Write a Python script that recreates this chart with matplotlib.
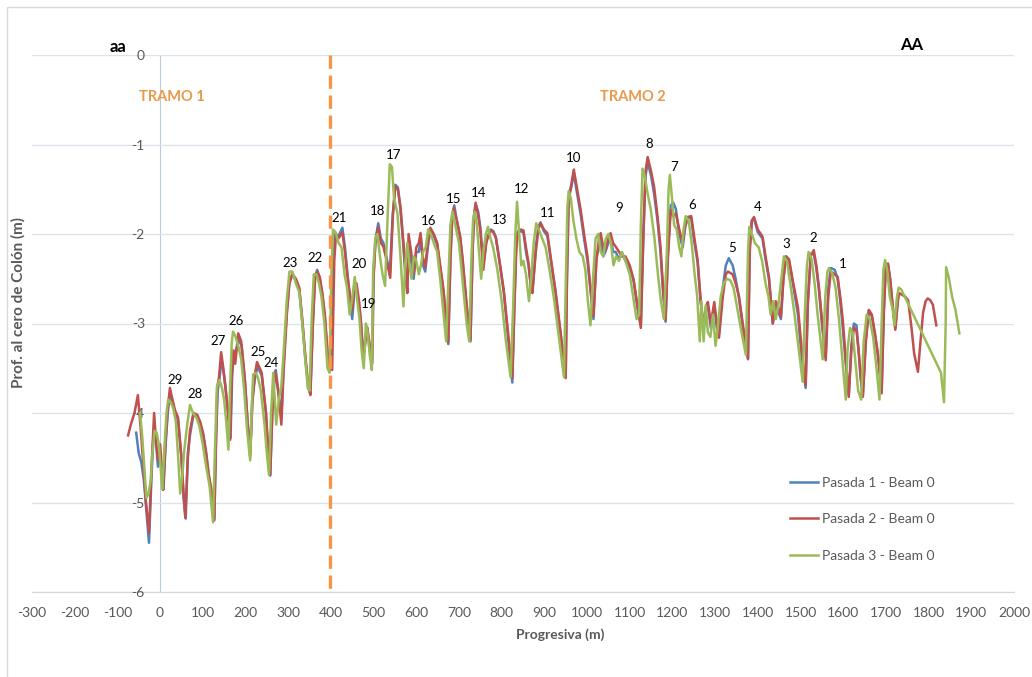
import matplotlib.pyplot as plt
from matplotlib.patches import Rectangle

plt.rcParams["font.family"] = ["Lato", "DejaVu Sans"]
plt.rcParams["axes.unicode_minus"] = False

# Perfil longitudinal - Pasada 1 (Beam 0)
x_p1 = [-56, -50, -44, -38, -32, -26, -20, -15, -10, -5, 0, 4, 8, 13, 18, 23, 29, 35, 42, 50,
        55, 60, 65, 70, 78, 87, 94, 101, 108, 113, 120, 127, 131, 135, 139, 144, 149, 153, 159, 165,
        169, 173, 178, 184, 191, 199, 205, 211, 216, 222, 228, 238, 248, 253, 258, 263, 268, 271, 278, 284,
        289, 297, 303, 310, 318, 326, 333, 340, 347, 352, 358, 363, 368, 374, 380, 386, 394, 401, 405, 410,
        418, 427, 433, 438, 444, 450, 455, 460, 466, 471, 476, 481, 485, 490, 496, 500, 505, 511, 517, 523,
        531, 538, 545, 551, 557, 563, 570, 576, 579, 583, 588, 594, 600, 606, 611, 616, 621, 627, 633, 641,
        649, 656, 664, 670, 675, 680, 684, 689, 695, 703, 709, 715, 721, 727, 732, 736, 740, 745, 750, 757,
        764, 770, 775, 781, 787, 795, 805, 815, 825, 830, 834, 838, 844, 851, 857, 863, 869, 872, 880, 886,
        891, 899, 907, 916, 926, 938, 950, 953, 957, 963, 969, 975, 985, 993, 1001, 1008, 1015, 1022, 1028, 1032,
        1038, 1043, 1050, 1055, 1061, 1067, 1075, 1082, 1090, 1100, 1109, 1118, 1126, 1132, 1137, 1142, 1150, 1157, 1165, 1172,
        1178, 1184, 1189, 1196, 1202, 1208, 1216, 1224, 1230, 1236, 1244, 1250, 1259, 1266, 1273, 1279, 1283, 1290, 1298, 1304,
        1309, 1318, 1325, 1332, 1341, 1348, 1356, 1366, 1377, 1381, 1386, 1391, 1400, 1411, 1418, 1426, 1435, 1442, 1447, 1454,
        1460, 1466, 1473, 1483, 1494, 1503, 1512, 1517, 1524, 1531, 1537, 1543, 1551, 1559, 1565, 1571, 1580, 1587, 1593, 1599,
        1606, 1613, 1619, 1625, 1631, 1636, 1641, 1646, 1653, 1660, 1667, 1674, 1681, 1690, 1695, 1700, 1705, 1710, 1716, 1722,
        1728]
y_p1 = [-4.22, -4.45, -4.55, -4.75, -5.1, -5.45, -4.7, -4.2, -4.3, -4.6, -4.45, -4.65, -4.85, -4.35, -4.0, -3.78, -3.88, -4.0, -4.08, -4.5,
        -4.95, -5.18, -4.45, -4.25, -4.02, -4.05, -4.12, -4.25, -4.45, -4.65, -4.9, -5.18, -4.3, -3.75, -3.62, -3.4, -3.55, -3.7, -3.98, -4.28,
        -3.55, -3.35, -3.3, -3.18, -3.25, -3.65, -4.1, -4.45, -3.85, -3.62, -3.48, -3.58, -4.0, -4.45, -4.7, -3.95, -3.6, -3.52, -3.8, -4.05,
        -3.5, -2.85, -2.52, -2.45, -2.52, -2.62, -2.98, -3.38, -3.72, -3.78, -2.95, -2.48, -2.4, -2.5, -2.68, -2.95, -3.45, -3.5, -2.4, -2.0,
        -2.02, -1.93, -2.15, -2.4, -2.7, -2.95, -2.65, -2.6, -2.8, -3.05, -3.38, -3.15, -3.05, -3.25, -3.45, -2.45, -2.05, -1.88, -2.05, -2.1,
        -2.28, -2.45, -1.78, -1.45, -1.48, -1.72, -2.15, -2.55, -2.62, -2.1, -2.3, -2.5, -2.2, -2.2, -2.05, -2.35, -2.42, -2.15, -1.95, -2.02,
        -2.12, -2.38, -2.65, -3.0, -3.23, -2.25, -1.8, -1.68, -1.85, -2.05, -2.32, -2.65, -2.95, -3.2, -2.15, -1.78, -1.68, -1.75, -1.92, -2.35,
        -2.08, -2.0, -1.95, -1.97, -2.05, -2.32, -2.65, -3.15, -3.66, -2.75, -2.15, -1.97, -1.97, -1.98, -2.2, -2.35, -2.62, -2.65, -2.15, -1.92,
        -1.87, -1.97, -2.02, -2.32, -2.65, -3.12, -3.58, -2.45, -1.6, -1.48, -1.32, -1.5, -1.78, -2.05, -2.3, -2.62, -2.95, -2.25, -2.15, -2.05,
        -2.25, -2.2, -2.1, -2.02, -2.2, -2.2, -2.28, -2.22, -2.3, -2.38, -2.52, -2.82, -3.02, -2.0, -1.35, -1.2, -1.35, -1.55, -1.85, -2.2,
        -2.65, -2.98, -2.25, -1.68, -1.65, -1.72, -2.0, -2.15, -1.92, -1.82, -1.82, -2.05, -2.32, -2.75, -3.05, -2.85, -2.8, -3.05, -2.8, -3.05,
        -3.12, -2.6, -2.35, -2.27, -2.35, -2.5, -2.72, -3.08, -3.4, -2.15, -1.85, -1.83, -1.98, -2.05, -2.28, -2.5, -3.0, -2.78, -2.85, -2.95,
        -2.5, -2.25, -2.3, -2.58, -2.9, -3.4, -3.72, -2.75, -2.22, -2.22, -2.38, -2.62, -3.05, -3.38, -2.6, -2.38, -2.4, -2.5, -2.75, -3.05,
        -3.45, -3.8, -3.25, -3.0, -3.02, -3.3, -3.62, -3.8, -3.18, -2.85, -2.92, -3.12, -3.35, -3.75, -2.85, -2.33, -2.35, -2.52, -2.82, -3.05,
        -2.72]

# Pasada 2 (Beam 0)
x_p2 = [-75, -68, -60, -52, -45, -40, -33, -26, -20, -14, -9, -5, 0, 4, 7, 13, 18, 23, 29, 35,
        42, 50, 55, 59, 65, 70, 78, 87, 94, 101, 108, 113, 120, 127, 131, 134, 138, 143, 148, 152,
        158, 164, 168, 172, 176, 183, 190, 198, 205, 211, 216, 221, 227, 238, 248, 253, 258, 263, 267, 270,
        277, 284, 289, 297, 303, 310, 318, 326, 333, 340, 347, 352, 358, 363, 368, 374, 380, 386, 394, 403,
        408, 412, 418, 427, 433, 438, 444, 450, 455, 460, 466, 471, 476, 481, 485, 490, 497, 500, 504, 511,
        517, 523, 531, 539, 545, 551, 557, 563, 570, 576, 579, 582, 588, 594, 600, 606, 610, 615, 621, 627,
        633, 641, 649, 656, 664, 670, 675, 680, 684, 688, 695, 703, 709, 715, 721, 727, 732, 735, 739, 745,
        750, 757, 764, 770, 774, 780, 786, 795, 805, 815, 825, 830, 834, 837, 844, 851, 857, 863, 869, 872,
        880, 886, 891, 899, 907, 916, 926, 938, 950, 953, 957, 963, 969, 975, 985, 993, 1001, 1008, 1015, 1022,
        1028, 1032, 1038, 1043, 1050, 1055, 1061, 1067, 1075, 1082, 1090, 1100, 1109, 1118, 1126, 1132, 1137, 1142, 1150, 1157,
        1165, 1172, 1178, 1184, 1189, 1196, 1202, 1208, 1216, 1224, 1230, 1236, 1244, 1250, 1259, 1266, 1273, 1279, 1283, 1290,
        1298, 1304, 1309, 1318, 1325, 1330, 1341, 1348, 1356, 1366, 1377, 1381, 1386, 1391, 1400, 1411, 1418, 1426, 1435, 1442,
        1447, 1454, 1460, 1466, 1473, 1483, 1494, 1503, 1512, 1517, 1524, 1531, 1537, 1543, 1551, 1559, 1565, 1571, 1580, 1587,
        1593, 1599, 1606, 1613, 1619, 1625, 1631, 1636, 1641, 1646, 1653, 1660, 1667, 1674, 1681, 1690, 1695, 1700, 1705, 1710,
        1716, 1722, 1728, 1731, 1738, 1745, 1752, 1760, 1766, 1775, 1781, 1787, 1793, 1798, 1804, 1810, 1818]
y_p2 = [-4.25, -4.12, -4.0, -3.8, -4.2, -4.53, -5.0, -5.34, -4.6, -4.0, -4.35, -4.53, -4.35, -4.6, -4.86, -4.3, -3.95, -3.72, -3.85, -3.97,
        -4.05, -4.5, -4.9, -5.17, -4.5, -4.2, -4.0, -4.02, -4.1, -4.23, -4.45, -4.67, -4.85, -5.2, -4.3, -3.71, -3.6, -3.32, -3.5, -3.67,
        -3.95, -4.3, -3.6, -3.3, -3.45, -3.11, -3.2, -3.6, -4.1, -4.49, -3.9, -3.6, -3.43, -3.55, -4.0, -4.4, -4.69, -4.0, -3.65, -3.54,
        -3.77, -4.13, -3.55, -2.89, -2.55, -2.45, -2.5, -2.6, -2.95, -3.35, -3.7, -3.8, -3.0, -2.5, -2.42, -2.48, -2.66, -2.9, -3.44, -3.52,
        -2.3, -2.0, -2.05, -1.98, -2.2, -2.44, -2.65, -2.85, -2.6, -2.55, -2.75, -3.0, -3.41, -3.2, -3.04, -3.2, -3.44, -2.5, -2.1, -1.92,
        -2.1, -2.14, -2.3, -2.49, -1.8, -1.47, -1.5, -1.7, -2.1, -2.5, -2.66, -2.0, -2.2, -2.44, -2.15, -2.1, -1.99, -2.25, -2.37, -2.1,
        -1.93, -2.0, -2.1, -2.35, -2.63, -3.0, -3.21, -2.3, -1.85, -1.71, -1.85, -2.03, -2.3, -2.63, -2.95, -3.18, -2.2, -1.8, -1.65, -1.8,
        -1.96, -2.4, -2.1, -2.0, -1.96, -1.98, -2.03, -2.3, -2.63, -3.1, -3.61, -2.8, -2.2, -1.99, -1.95, -1.96, -2.15, -2.33, -2.6, -2.66,
        -2.2, -1.95, -1.88, -1.95, -1.99, -2.3, -2.63, -3.1, -3.61, -2.5, -1.58, -1.45, -1.28, -1.45, -1.73, -2.0, -2.25, -2.6, -2.92, -2.3,
        -2.05, -1.99, -2.15, -2.18, -2.05, -1.99, -2.1, -2.14, -2.2, -2.25, -2.25, -2.35, -2.51, -2.8, -3.05, -2.0, -1.3, -1.14, -1.3, -1.47,
        -1.8, -2.14, -2.6, -2.96, -2.3, -1.73, -1.8, -1.77, -1.95, -2.1, -1.9, -1.81, -1.8, -2.0, -2.29, -2.74, -3.04, -2.8, -2.76, -3.0,
        -2.76, -3.0, -3.16, -2.7, -2.45, -2.42, -2.45, -2.55, -2.7, -3.05, -3.39, -2.2, -1.85, -1.81, -1.95, -2.03, -2.25, -2.48, -3.0, -2.75,
        -2.8, -2.93, -2.5, -2.25, -2.28, -2.55, -2.82, -3.3, -3.69, -2.8, -2.25, -2.18, -2.35, -2.59, -3.0, -3.41, -2.7, -2.42, -2.45, -2.48,
        -2.7, -2.96, -3.4, -3.82, -3.3, -3.04, -3.08, -3.3, -3.6, -3.82, -3.2, -2.85, -2.9, -3.1, -3.33, -3.78, -2.9, -2.35, -2.33, -2.5,
        -2.81, -3.07, -2.75, -2.66, -2.68, -2.7, -2.74, -3.05, -3.33, -3.54, -3.2, -2.88, -2.75, -2.72, -2.74, -2.79, -3.02]

# Pasada 3 (Beam 0)
x_p3 = [-47, -42, -37, -32, -27, -22, -18, -13, -8, -3, 2, 5, 10, 15, 19, 25, 31, 37, 43, 47,
        52, 57, 63, 70, 77, 85, 92, 100, 108, 116, 124, 128, 133, 139, 145, 150, 155, 160, 164, 168,
        171, 177, 183, 190, 197, 204, 211, 215, 218, 224, 229, 236, 245, 250, 255, 260, 265, 272, 278, 284,
        289, 297, 303, 310, 318, 326, 333, 340, 346, 350, 355, 360, 366, 372, 378, 385, 392, 397, 401, 405,
        411, 418, 425, 432, 438, 444, 450, 456, 462, 467, 472, 477, 482, 486, 491, 496, 499, 504, 509, 515,
        521, 527, 533, 538, 543, 548, 556, 563, 570, 574, 579, 584, 589, 594, 600, 606, 611, 616, 622, 628,
        634, 641, 649, 656, 663, 670, 676, 680, 685, 692, 700, 706, 712, 718, 724, 729, 733, 737, 742, 747,
        752, 757, 763, 768, 774, 780, 790, 800, 810, 821, 827, 832, 836, 841, 846, 851, 857, 864, 869, 875,
        881, 887, 895, 903, 912, 922, 934, 946, 950, 954, 957, 962, 968, 975, 982, 990, 996, 1002, 1008, 1014,
        1020, 1026, 1032, 1038, 1044, 1050, 1056, 1062, 1068, 1075, 1082, 1090, 1100, 1108, 1116, 1122, 1126, 1130, 1135, 1142,
        1149, 1158, 1166, 1173, 1180, 1187, 1191, 1194, 1199, 1204, 1210, 1216, 1221, 1226, 1231, 1238, 1245, 1252, 1258, 1264,
        1268, 1273, 1278, 1283, 1289, 1295, 1301, 1306, 1313, 1320, 1328, 1336, 1343, 1350, 1360, 1372, 1377, 1380, 1386, 1393,
        1402, 1410, 1418, 1425, 1430, 1436, 1442, 1448, 1455, 1461, 1468, 1476, 1486, 1496, 1505, 1510, 1515, 1519, 1526, 1533,
        1540, 1546, 1552, 1558, 1563, 1567, 1575, 1582, 1590, 1598, 1606, 1610, 1616, 1622, 1628, 1635, 1642, 1648, 1655, 1662,
        1670, 1677, 1685, 1690, 1694, 1698, 1703, 1709, 1716, 1720, 1726, 1730, 1736, 1829, 1836, 1840, 1841, 1847, 1855, 1863,
        1872]
y_p3 = [-4.0, -4.25, -4.6, -4.95, -4.9, -4.75, -4.45, -4.2, -4.22, -4.35, -4.65, -4.85, -4.4, -4.0, -3.85, -3.88, -3.95, -4.1, -4.55, -4.9,
        -4.7, -4.4, -4.15, -3.91, -4.0, -4.05, -4.15, -4.35, -4.6, -4.82, -5.22, -4.5, -3.71, -3.63, -3.72, -3.85, -4.1, -4.41, -3.7, -3.2,
        -3.09, -3.15, -3.25, -3.4, -3.75, -4.2, -4.53, -3.9, -3.57, -3.55, -3.6, -3.75, -4.15, -4.45, -4.69, -4.0, -3.55, -4.13, -3.85, -3.7,
        -3.35, -2.72, -2.42, -2.42, -2.55, -2.65, -3.0, -3.4, -3.72, -3.75, -2.95, -2.45, -2.45, -2.55, -2.7, -3.0, -3.5, -3.55, -2.5, -1.95,
        -1.98, -2.1, -2.15, -2.45, -2.6, -2.9, -2.72, -2.48, -2.75, -2.95, -3.3, -3.5, -3.0, -3.1, -3.35, -3.52, -2.4, -2.05, -2.0, -2.25,
        -2.45, -2.58, -1.8, -1.22, -1.25, -1.6, -1.77, -2.25, -2.81, -2.35, -2.1, -2.35, -2.5, -2.25, -2.3, -2.45, -2.35, -2.2, -2.15, -1.95,
        -2.0, -2.1, -2.2, -2.5, -2.85, -3.2, -2.4, -1.9, -1.75, -1.92, -2.1, -2.4, -2.7, -3.0, -3.2, -2.3, -1.85, -1.75, -1.9, -2.2,
        -2.5, -2.2, -2.0, -1.92, -2.05, -2.15, -2.4, -2.75, -3.2, -3.6, -2.8, -2.0, -1.64, -2.0, -2.35, -2.3, -2.45, -2.75, -2.5, -2.1,
        -1.88, -1.95, -2.05, -2.15, -2.4, -2.7, -3.15, -3.6, -2.6, -1.7, -1.52, -1.6, -1.85, -2.05, -2.2, -2.25, -2.4, -2.75, -3.02, -2.5,
        -2.05, -2.0, -2.2, -2.25, -2.05, -2.0, -2.1, -2.35, -2.25, -2.3, -2.2, -2.3, -2.45, -2.7, -2.95, -2.9, -1.9, -1.27, -1.35, -1.55,
        -1.72, -2.05, -2.45, -2.75, -2.95, -2.2, -1.5, -1.34, -1.6, -1.9, -1.95, -2.15, -2.25, -1.95, -1.8, -1.85, -2.1, -2.45, -2.7, -3.2,
        -2.75, -3.2, -2.8, -3.1, -3.15, -2.9, -3.25, -3.05, -2.7, -2.55, -2.5, -2.52, -2.6, -2.78, -3.05, -3.35, -2.2, -1.92, -2.0, -2.1,
        -2.15, -2.3, -2.55, -2.7, -2.9, -2.75, -2.95, -2.8, -2.5, -2.25, -2.3, -2.55, -2.9, -3.3, -3.65, -2.9, -2.35, -2.2, -2.28, -2.55,
        -2.9, -3.15, -3.4, -2.7, -2.42, -2.38, -2.45, -2.6, -2.95, -3.4, -3.85, -3.3, -3.05, -3.1, -3.4, -3.75, -3.85, -3.2, -2.9, -2.95,
        -3.15, -3.45, -3.85, -3.0, -2.4, -2.29, -2.4, -2.7, -2.85, -3.02, -2.7, -2.6, -2.62, -3.55, -3.88, -3.0, -2.37, -2.48, -2.7, -2.85,
        -3.11]

# Numeracion de crestas
peak_labels = [str(n) for n in range(1, 30)]
peak_x = [1599, 1529, 1466, 1400, 1339, 1247, 1203, 1145, 1076, 968, 907, 847, 795, 746, 687, 629, 547, 509, 488, 467,
          420, 363, 305, 260, 230, 178, 136, 82, 35]
peak_y = [-2.33, -2.04, -2.11, -1.70, -2.16, -1.68, -1.25, -0.99, -1.71, -1.15, -1.77, -1.50, -1.84, -1.54, -1.61, -1.86, -1.12, -1.74, -2.78, -2.33,
          -1.82, -2.27, -2.32, -3.44, -3.32, -2.97, -3.20, -3.79, -3.63]

x_ticks = list(range(-300, 2001, 100))
y_ticks = [0, -1, -2, -3, -4, -5, -6]
limite_tramos = 397

fig = plt.figure(figsize=(10.32, 6.77), dpi=100)
fig.patches.append(Rectangle((7 / 1032, -0.1), 1.2, 1 - 7 / 677 + 0.1, transform=fig.transFigure,
                             fill=False, edgecolor="#d9d9d9", linewidth=1))
ax = fig.add_axes([32 / 1032, 1 - 592 / 677, 982 / 1032, 537 / 677])

gray = "#595959"
ax.plot(x_p1, y_p1, color="#4f81bd", lw=1.8, label="Pasada 1 - Beam 0", zorder=3)
ax.plot(x_p2, y_p2, color="#c0504d", lw=1.8, label="Pasada 2 - Beam 0", zorder=4)
ax.plot(x_p3, y_p3, color="#9bbb59", lw=1.8, label="Pasada 3 - Beam 0", zorder=5)

ax.plot([limite_tramos, limite_tramos], [0, -6], color="#f79646", lw=2.4,
        dashes=(4, 2), zorder=6)

for lab, px, py in zip(peak_labels, peak_x, peak_y):
    ax.text(px, py, lab, ha="center", va="center", fontsize=9.5, color="black", zorder=7)

ax.set_xlim(-300, 2000)
ax.set_ylim(-6, 0)
ax.set_xticks(x_ticks)
ax.set_yticks(y_ticks)
ax.set_yticklabels([str(v) for v in y_ticks])
ax.tick_params(axis="both", length=0, labelsize=10, labelcolor=gray)
ax.tick_params(axis="x", pad=11)
ax.tick_params(axis="y", pad=11)
ax.grid(axis="y", color="#dde3ea", lw=1)
ax.set_axisbelow(True)

for s in ["top", "right"]:
    ax.spines[s].set_visible(False)
ax.spines["left"].set_position(("data", 0))
ax.spines["left"].set_color("#bccbd9")
ax.spines["bottom"].set_color("#cfd6de")
# los ejes quedan por debajo de las etiquetas (el "-6" cae sobre la linea inferior)
for s in ["left", "bottom"]:
    ax.spines[s].set_zorder(0.4)

ax.text(-98, 0.09, "aa", fontsize=12, fontweight="bold", color="black", ha="center", va="center", clip_on=False)
ax.text(1759, 0.11, "AA", fontsize=12, fontweight="bold", color="black", ha="center", va="center", clip_on=False)
ax.text(28, -0.47, "TRAMO 1", fontsize=10.5, fontweight="bold", color="#e9994a", ha="center", va="center")
ax.text(1107, -0.47, "TRAMO 2", fontsize=10.5, fontweight="bold", color="#e9994a", ha="center", va="center")

fig.text(18 / 1032, 1 - 302 / 677, "Prof. al cero de Colón (m)", rotation=90, fontsize=11,
         fontweight="bold", color=gray, ha="center", va="center")
fig.text(560 / 1032, 1 - 635 / 677, "Progresiva (m)", fontsize=10, fontweight="bold",
         color=gray, ha="center", va="center")

leg = ax.legend(loc="upper left", bbox_to_anchor=(783 / 1032, 1 - 470 / 677), bbox_transform=fig.transFigure,
                frameon=False, fontsize=10, labelspacing=1.75, handlelength=2.0, handletextpad=0.3, borderpad=0)
for t in leg.get_texts():
    t.set_color(gray)

fig.savefig("out.png", dpi=100)
